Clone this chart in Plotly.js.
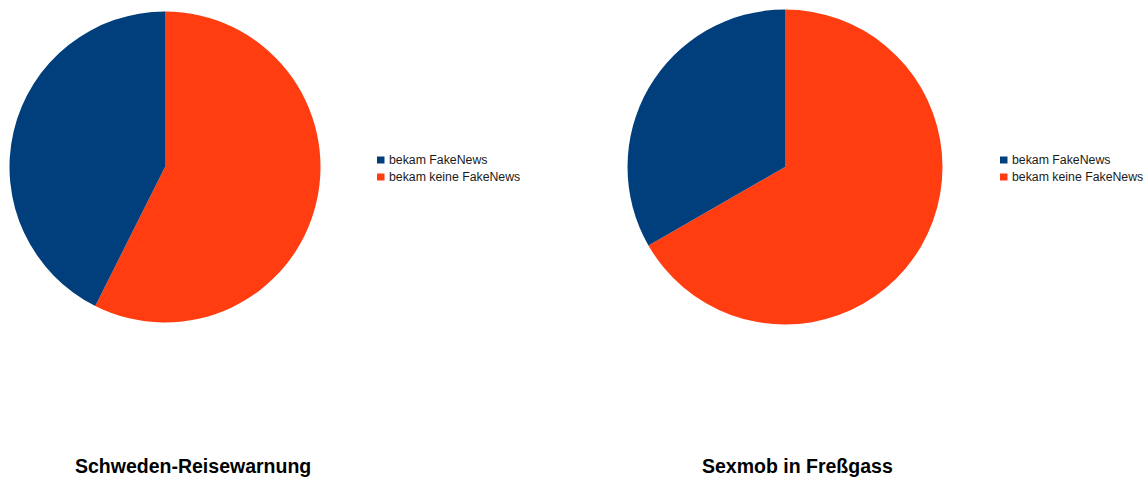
<!DOCTYPE html>
<html>
<head>
<meta charset="utf-8">
<script src="https://cdn.plot.ly/plotly-3.0.1.min.js"></script>
<style>
  html, body { margin: 0; padding: 0; background: #ffffff; }
  #chart { width: 1148px; height: 477px; }
</style>
</head>
<body>
<div id="chart"></div>
<script>
// Survey answers: did the person receive the fake news item?
const labels = ['bekam FakeNews', 'bekam keine FakeNews'];
const sliceColors = ['#003e7c', '#ff3d10'];

const chartTitles = ['Schweden-Reisewarnung', 'Sexmob in Freßgass'];
const schwedenValues = [42.6, 57.4];
const sexmobValues = [33.3, 66.7];

const W = 1148, H = 477;
// pixel -> paper coordinate helpers
const px = x => x / W;
const py = y => (H - y) / H;

// pie placement: centre and radius in pixels
const pies = [
  { values: schwedenValues, cx: 165, cy: 167, r: 155.5, titleX: 193, legendX: 377 },
  { values: sexmobValues,   cx: 785, cy: 167, r: 157.5, titleX: 797, legendX: 1000 }
];

// slices are laid out clockwise from 12 o'clock, "keine" first,
// so the "bekam" slice ends up on the left-hand side
const sliceOrder = [1, 0];

const data = pies.map(p => ({
  type: 'pie',
  labels: sliceOrder.map(k => labels[k]),
  values: sliceOrder.map(k => p.values[k]),
  sort: false,
  direction: 'clockwise',
  rotation: 0,
  textinfo: 'none',
  hoverinfo: 'skip',
  showlegend: false,
  marker: { colors: sliceOrder.map(k => sliceColors[k]), line: { width: 0 } },
  domain: {
    x: [px(p.cx - p.r), px(p.cx + p.r)],
    y: [py(p.cy + p.r), py(p.cy - p.r)]
  }
}));

const shapes = [];
const annotations = [];

pies.forEach((p, i) => {
  // chart caption under each pie
  annotations.push({
    text: chartTitles[i],
    xref: 'paper', yref: 'paper',
    x: px(p.titleX), y: py(466),
    xanchor: 'center', yanchor: 'middle',
    showarrow: false,
    font: { family: 'Liberation Sans, Arial, sans-serif', size: 19.5, color: '#000000', weight: 'bold' }
  });

  // legend: small colour square + label per category
  labels.forEach((lab, j) => {
    const rowY = 160 + j * 17;
    shapes.push({
      type: 'rect', xref: 'paper', yref: 'paper',
      x0: px(p.legendX), x1: px(p.legendX + 7.5),
      y0: py(rowY + 3.5), y1: py(rowY - 3.5),
      fillcolor: sliceColors[j], line: { width: 0 }
    });
    annotations.push({
      text: lab,
      xref: 'paper', yref: 'paper',
      x: px(p.legendX + 12), y: py(rowY),
      xanchor: 'left', yanchor: 'middle',
      showarrow: false,
      xshift: -2,
      font: { family: 'Liberation Sans, Arial, sans-serif', size: 12.3, color: '#1a1a1a' }
    });
  });
});

const layout = {
  width: W,
  height: H,
  margin: { l: 0, r: 0, t: 0, b: 0 },
  paper_bgcolor: '#ffffff',
  plot_bgcolor: '#ffffff',
  showlegend: false,
  shapes: shapes,
  annotations: annotations
};

Plotly.newPlot('chart', data, layout, { displayModeBar: false, staticPlot: true });
</script>
</body>
</html>
